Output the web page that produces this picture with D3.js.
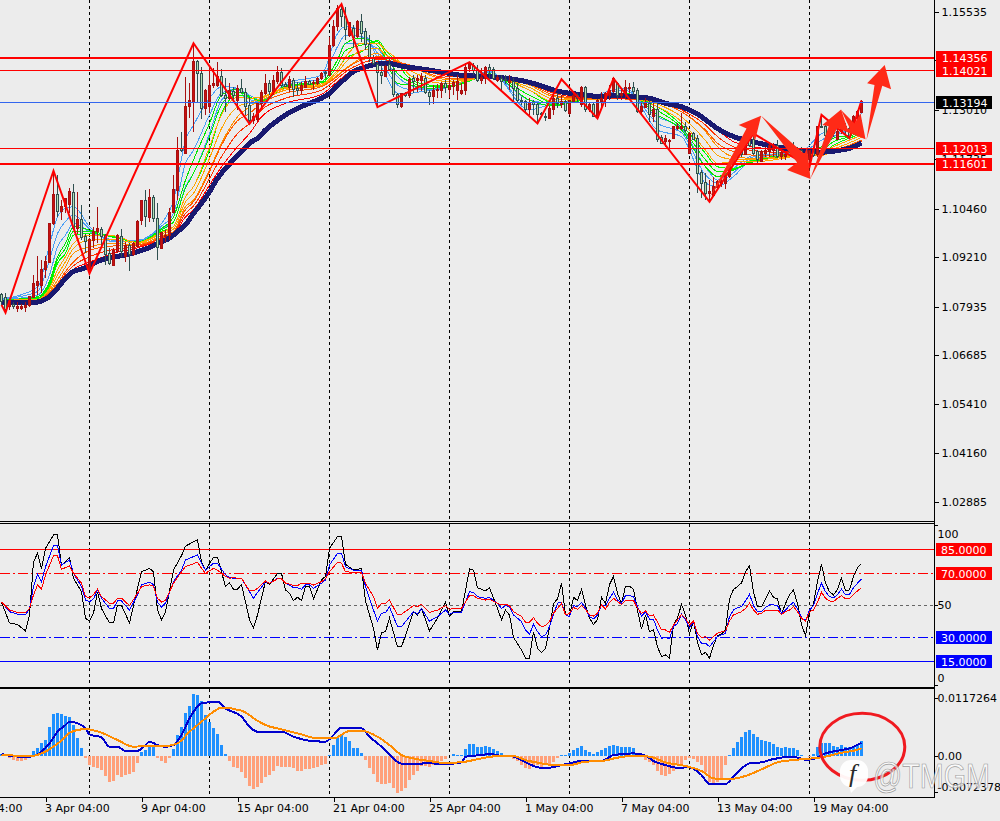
<!DOCTYPE html>
<html><head><meta charset="utf-8">
<script src="https://cdn.jsdelivr.net/npm/d3@7/dist/d3.min.js"></script>
<style>
html,body{margin:0;padding:0;background:#ececec;overflow:hidden}
svg{display:block}
text{font-family:"DejaVu Sans",sans-serif;font-size:11px}
</style></head><body><div id="chart"></div>
<script>
// Prices below are in 1/10000 of the quote (11553.5 = 1.15535). One candle per bar, 0..215.
const open=[10825,10816,10793,10800,10789,10789,10792,10796,10817,10849,10847,10888,10907,11007,11083,11038,11051,11058,11088,10995,11018,10974,10884,10965,10986,10993,10976,10931,10900,10935,10974,10922,10951,10927,10948,11015,11068,11024,11075,11021,10944,10974,10978,11036,11094,11202,11189,11309,11321,11426,11395,11305,11311,11363,11365,11387,11339,11330,11348,11326,11357,11345,11313,11273,11275,11318,11344,11369,11348,11374,11398,11367,11359,11378,11357,11351,11359,11375,11368,11369,11382,11397,11391,11466,11516,11559,11543,11492,11511,11490,11529,11503,11470,11434,11417,11397,11388,11417,11406,11341,11309,11344,11337,11382,11376,11378,11382,11347,11335,11350,11352,11369,11354,11362,11351,11342,11351,11408,11415,11402,11376,11382,11411,11404,11378,11382,11380,11371,11374,11357,11326,11322,11301,11321,11315,11292,11285,11279,11302,11331,11316,11322,11292,11322,11339,11314,11359,11301,11314,11282,11322,11328,11339,11348,11368,11339,11342,11357,11359,11351,11296,11308,11318,11285,11301,11230,11219,11219,11227,11253,11253,11259,11189,11239,11228,11140,11113,11086,11081,11101,11110,11110,11129,11163,11187,11193,11187,11223,11225,11193,11167,11189,11193,11197,11208,11180,11180,11197,11204,11202,11197,11172,11173,11196,11185,11259,11258,11240,11245,11225,11245,11258,11253,11253,11279,11293];
const close=[10806,10785,10806,10793,10795,10793,10796,10819,10852,10859,10890,10909,11008,11082,11038,11053,11072,11090,10995,11018,10972,10961,10967,10986,10995,10974,10929,10905,10938,10976,10935,10952,10929,10957,11014,11068,11025,11075,11021,10946,10984,10977,11037,11096,11197,11196,11311,11324,11427,11395,11305,11352,11365,11368,11388,11337,11331,11351,11339,11357,11345,11311,11273,11283,11318,11347,11369,11348,11376,11398,11365,11361,11380,11354,11351,11364,11375,11367,11371,11382,11394,11394,11468,11517,11563,11542,11509,11526,11488,11529,11498,11470,11434,11421,11397,11390,11414,11406,11341,11314,11344,11339,11380,11374,11382,11388,11345,11335,11352,11354,11369,11359,11364,11372,11374,11352,11411,11421,11402,11378,11385,11411,11402,11382,11385,11374,11376,11378,11357,11326,11322,11301,11321,11314,11288,11288,11282,11305,11331,11318,11322,11299,11325,11339,11331,11359,11301,11316,11285,11326,11330,11342,11351,11382,11339,11344,11359,11359,11348,11296,11311,11320,11288,11301,11225,11215,11227,11223,11258,11259,11259,11247,11239,11225,11137,11112,11086,11090,11103,11116,11116,11131,11163,11172,11182,11185,11209,11210,11189,11172,11193,11197,11210,11208,11180,11191,11187,11193,11197,11193,11167,11170,11196,11183,11258,11256,11234,11236,11239,11245,11258,11251,11232,11283,11296,11322];
const high=[10828,10829,10813,10806,10806,10800,10806,10821,10875,10924,10914,10924,11008,11142,11133,11068,11072,11099,11110,11090,11056,10982,10970,11000,11050,11000,10982,10944,10944,10982,10993,10961,10957,10961,11017,11068,11094,11096,11081,11060,10987,10991,11047,11133,11232,11245,11385,11370,11473,11430,11412,11354,11412,11408,11424,11406,11382,11370,11359,11365,11380,11357,11335,11292,11322,11352,11394,11378,11391,11414,11408,11374,11388,11382,11374,11374,11388,11378,11378,11385,11400,11404,11490,11533,11572,11576,11567,11529,11520,11533,11548,11511,11494,11443,11425,11417,11417,11438,11408,11344,11345,11348,11385,11391,11391,11395,11391,11352,11365,11368,11374,11378,11391,11378,11391,11370,11421,11425,11423,11417,11408,11414,11419,11412,11391,11391,11391,11391,11382,11370,11335,11326,11331,11326,11322,11296,11292,11311,11339,11344,11339,11326,11326,11344,11345,11363,11363,11322,11318,11328,11348,11348,11365,11385,11374,11357,11378,11371,11374,11357,11322,11331,11326,11318,11318,11236,11236,11227,11259,11266,11294,11271,11245,11245,11236,11146,11137,11120,11129,11120,11124,11133,11165,11180,11193,11197,11223,11236,11236,11197,11197,11206,11219,11215,11223,11197,11193,11206,11219,11206,11206,11180,11197,11202,11259,11288,11262,11253,11253,11253,11271,11266,11262,11288,11301,11326];
const low=[10798,10780,10785,10786,10780,10785,10780,10793,10815,10823,10828,10866,10907,11004,11025,11017,11034,11034,10991,10982,10965,10931,10879,10944,10957,10948,10901,10901,10898,10931,10922,10909,10886,10924,10946,11004,11000,11013,11013,10914,10941,10961,10965,11034,11068,11193,11189,11279,11245,11318,11277,11288,11292,11357,11361,11333,11296,11326,11318,11301,11344,11288,11266,11265,11271,11309,11339,11339,11339,11369,11359,11359,11348,11335,11339,11342,11357,11365,11352,11365,11378,11382,11388,11464,11505,11516,11481,11490,11460,11486,11477,11455,11425,11417,11307,11369,11385,11404,11335,11307,11307,11335,11331,11344,11348,11351,11342,11314,11316,11331,11331,11344,11331,11339,11326,11339,11339,11400,11391,11374,11369,11369,11378,11378,11374,11352,11368,11352,11322,11318,11314,11296,11288,11288,11266,11283,11273,11277,11288,11305,11305,11296,11288,11318,11322,11309,11296,11296,11282,11277,11301,11309,11326,11344,11326,11326,11328,11344,11339,11292,11290,11305,11271,11271,11219,11213,11206,11202,11225,11249,11249,11245,11187,11223,11086,11073,11068,11068,11077,11099,11103,11096,11124,11159,11172,11180,11185,11206,11185,11165,11166,11180,11180,11180,11176,11172,11172,11189,11189,11189,11163,11154,11154,11180,11180,11253,11227,11227,11232,11223,11240,11240,11227,11249,11275,11292];

const navyBars=[0,4,8,10,12,14,16,18,20,22,25,28,31,34,37,40,42,44,46,48,50,52,54,56,58,60,62,64,66,68,71,74,77,80,82,84,86,88,90,92,94,96,98,100,104,108,112,116,120,124,128,132,136,138,142,146,150,154,158,162,166,170,174,179,183,187,192,196,200,205,209,212,215];
const navyVals=[10804,10804,10804,10808,10819,10841,10866,10884,10890,10899,10914,10921,10927,10935,10946,10961,10970,10987,11004,11034,11060,11090,11124,11150,11172,11193,11215,11228,11249,11266,11288,11305,11318,11331,11344,11365,11382,11400,11408,11415,11419,11421,11419,11414,11408,11402,11395,11389,11388,11385,11380,11372,11359,11352,11344,11339,11335,11338,11335,11331,11318,11309,11290,11253,11232,11221,11209,11202,11196,11192,11196,11202,11215];

const rainbowBars=[0,9,12,14,16,18,22,28,34,40,43,46,48,52,55,59,62,65,71,80,84,86,90,94,96,99,102,107,112,122,132,138,146,156,164,170,176,179,183,188,200,205,208,212,215];
const blue1=[10813,10843,10952,11025,11047,11051,11000,10961,10964,11008,11068,11223,11262,11331,11361,11357,11318,11318,11369,11391,11498,11516,11507,11434,11391,11344,11344,11352,11359,11400,11301,11318,11331,11357,11249,11232,11112,11103,11129,11176,11193,11240,11249,11251,11292];
const blue2=[10812,10832,10914,10982,11013,11030,10994,10964,10962,11001,11034,11163,11197,11288,11344,11356,11328,11322,11365,11382,11464,11494,11490,11447,11408,11365,11354,11352,11359,11397,11314,11318,11330,11351,11266,11242,11133,11112,11139,11180,11192,11223,11240,11249,11275];
const blue3=[10811,10823,10875,10948,10978,11008,10987,10965,10960,10995,11012,11103,11137,11240,11326,11354,11339,11326,11361,11374,11430,11473,11473,11460,11430,11387,11365,11354,11360,11394,11326,11318,11329,11344,11283,11253,11154,11120,11150,11184,11191,11206,11232,11247,11258];
const green1=[10810,10819,10858,10922,10957,11000,10991,10972,10961,10995,11025,11120,11172,11266,11339,11354,11335,11322,11363,11374,11430,11473,11486,11468,11434,11369,11365,11357,11360,11394,11326,11311,11328,11344,11288,11249,11154,11129,11146,11167,11189,11206,11228,11236,11253];
const green2=[10810,10816,10852,10914,10944,10988,10987,10974,10960,10992,11012,11099,11137,11232,11314,11347,11335,11323,11361,11371,11417,11454,11468,11477,11447,11395,11374,11361,11361,11391,11339,11314,11328,11339,11299,11256,11172,11142,11148,11170,11188,11197,11219,11232,11247];
const green3=[10810,10814,10845,10905,10931,10978,10982,10975,10959,10988,11000,11077,11103,11197,11292,11339,11333,11325,11359,11368,11404,11434,11451,11481,11455,11421,11382,11365,11363,11388,11352,11318,11328,11335,11309,11262,11189,11154,11150,11172,11187,11189,11210,11228,11240];
const orange1=[10810,10812,10841,10888,10922,10957,10978,10976,10959,10985,11000,11077,11103,11206,11288,11333,11331,11335,11359,11368,11404,11437,11473,11473,11455,11431,11391,11374,11369,11387,11352,11322,11328,11332,11309,11271,11197,11163,11167,11167,11184,11191,11206,11223,11236];
const orange2=[10809,10811,10836,10875,10909,10944,10965,10967,10956,10981,10993,11064,11086,11176,11253,11309,11320,11331,11356,11365,11398,11423,11454,11460,11443,11428,11404,11382,11374,11385,11359,11329,11328,11332,11316,11283,11222,11184,11173,11172,11184,11188,11200,11216,11230];
const orange3=[10809,10810,10832,10862,10896,10931,10948,10957,10953,10976,10987,11051,11068,11146,11215,11283,11309,11326,11352,11363,11391,11408,11434,11447,11430,11423,11417,11391,11378,11384,11365,11335,11328,11331,11322,11296,11245,11206,11180,11176,11184,11184,11193,11210,11223];
const red1=[10808,10810,10830,10853,10884,10909,10938,10950,10952,10972,10986,11043,11064,11142,11210,11273,11292,11318,11344,11361,11388,11406,11430,11438,11437,11425,11417,11394,11382,11384,11368,11339,11330,11329,11322,11296,11249,11215,11193,11184,11187,11191,11196,11210,11223];
const red2=[10807,10809,10827,10849,10878,10899,10922,10941,10948,10969,10982,11034,11053,11124,11180,11240,11266,11301,11331,11352,11382,11399,11421,11431,11430,11423,11414,11399,11387,11385,11369,11344,11332,11330,11324,11301,11262,11232,11206,11196,11189,11189,11193,11206,11220];
const red3=[10806,10807,10823,10845,10872,10890,10908,10931,10945,10965,10978,11025,11043,11107,11154,11206,11240,11283,11318,11341,11374,11391,11412,11425,11425,11421,11413,11404,11391,11386,11370,11348,11333,11331,11326,11305,11275,11249,11219,11206,11191,11187,11191,11202,11216];

const zigzagBars=[0,1,13,22,48,62,85,94,117,134,140,149,153,177,188,202,205,212,215];
const zigzagVals=[10798,10778,11144,10879,11473,11265,11574,11308,11424,11266,11380,11279,11382,11064,11240,11154,11288,11228,11325];

const levelPrices=[11435.6,11402.1,11319.4,11201.3,11160.1];
const levelLabels=["1.14356","1.14021","1.13194","1.12013","1.11601"];
const levelColors=["#ff0000","#ff0000","#3366ee","#ff0000","#ff0000"];
const levelWidths=[2,1,1,1,2];
const levelBoxes=["#ff0000","#ff0000","#000000","#ff0000","#ff0000"];
const priceTicks=[11553.5,11428.5,11301,11173.5,11046,10921,10793.5,10668.5,10541,10416,10288.5];

const rsiBars=[0,2,4,6,7,8,9,10,11,13,14,15,17,18,20,21,22,23,24,25,27,28,29,30,32,34,35,37,38,39,40,41,43,45,46,49,50,51,53,54,56,57,58,59,60,62,63,64,66,67,69,70,71,72,73,74,75,76,77,78,80,81,82,84,85,86,88,90,91,93,94,95,96,97,99,100,103,104,105,107,109,111,112,113,115,117,118,119,121,122,124,125,126,127,128,130,131,132,133,134,135,136,137,138,139,140,141,142,143,144,145,146,147,148,149,150,151,152,153,154,155,156,157,158,159,160,161,162,163,164,165,166,167,168,169,170,171,172,173,174,175,176,177,178,179,180,181,182,183,184,185,186,187,188,189,190,191,192,193,194,195,196,197,198,199,200,201,202,203,204,205,206,207,208,209,210,211,212,213,214,215];
const rsiFast=[52,39,38,34,44,77,82.5,73,85.6,94,94,75,80,67,58.5,42,40,45,58.5,48,39,39,50,50,39,60.6,71,73,71,47,41,46,72,81,87,91,77,72,80,80,61.7,64,60,60,63,41,36,44,65,63,70,70,59.6,57.5,53,55,53,61.7,61.7,54,66,68,85.6,93,93,75.6,72,73,52.7,35.6,22,33,33.5,42,24,24,46,44,48,34,42,52,43,46,46,72.7,72,61,59,61,48,41,47,44,30,22,17,17,33.5,23,20.6,23,36,51,54,64,44,43,55,53,60,50,42,38,41,55,51,63,68,57.5,51,62,62,60,47,35,44,33.5,34.6,24,18,19,17,38,42,50.6,44,32,40,27,19,20.6,17,25,31,32,34.6,54,60,61.7,64,71,74.6,58.5,49,49,54,59,55,54,44.6,51,56.5,59.6,51,38,31,46,51,65,75.6,64,58.5,56.5,60,67,59,59.6,68,73.5,76];
const rsiMid=[52,46,44.5,44,48,61.7,69.4,64.8,74,87.3,87.3,75.2,78.3,70,61.7,53.3,52.3,54,59.6,54.4,48,48,52.7,52.7,47,56.5,62.7,64.4,63,52,49,51.3,64.8,72,78.3,81.5,76.3,72,76.3,76.3,69,67.3,66.9,66.9,66.9,58.5,54.4,58,64.8,63.8,66.9,66.9,63.8,62.7,61,61,60,62.7,62.7,60.6,63.8,65.8,75.2,82.5,82.5,74,72,72,61.7,47,40,45,45.4,49,36.7,36.7,46,44.6,48,40,43,47,44.4,45.6,45.6,58.5,58,55.4,54.4,54.8,51.3,48,49.8,49.2,44,39.8,34.6,31.9,38.1,33.5,30.4,31.5,36.7,44,51.3,51.9,44,43,49.8,49.2,51.9,48.1,43,41.5,44,50.2,49.6,54.4,58.1,53.3,51.3,56,56,55.4,49.2,43,46,41.3,41.3,34.6,29.4,29.8,29,36.7,38.7,44.4,40.8,36,39.8,30.4,26.3,26.3,24.2,27.3,30.4,31.5,32.5,43,47,48.6,49.2,52.7,56.9,49.8,46,46,48.6,50.2,50.2,49.8,45,47,49.8,51.9,47.7,42.3,40.2,47,49.8,57.5,63.8,58.5,55.4,54.8,56.5,60.2,56.5,56.9,61,63.8,66.5];
const rsiSlow=[52,47,45.6,45.4,48,56.5,62.7,60.2,69,81,81,72.5,74.6,70,63.8,55.4,54.8,56.5,60.2,55.4,51.3,51.3,54.4,54.4,49.8,57.5,61.7,62.7,62,54.4,52,53,63.8,71,74.2,76.9,73.1,70,73.1,72,68,66.9,67.3,66.9,66.9,59,59,60.6,65.2,63.8,66.5,66.5,63.8,63.3,62.3,62.3,63.8,63.8,63.8,62.7,64.8,66.5,71,76.9,76.3,71,70.6,70.6,63.8,55.4,48.1,51.3,51.3,53.3,44,44.4,49.8,49.2,50.6,45.6,47,49.8,47.5,48.1,48.1,56,56,54.4,53.3,53.8,51.3,50.2,50.6,49.8,46,43,39.4,39.4,42.3,38.8,36.7,37.3,39.8,45,48.1,51.3,44,45,48.6,47.5,49.8,47.5,44,43.3,45,50.2,47.7,51.9,54.4,52.3,50.6,53,53,53,48.1,45,46.5,43.5,44,39.4,34.6,34.6,33.1,37.7,40.8,44.4,41.9,37.7,40.2,32.5,29.8,30.4,28.3,30.4,32.5,33.5,34,40.2,44,45,46,48.1,51.3,47,44.4,45,47,46.5,47,47,44.4,46,47,49.2,46,41.9,40.2,46,47,51.9,58.1,54.4,52.7,52.3,54.4,56,54,54,56.9,59,61];
const rsiLevels=[85,70,50,30,15];
const rsiLevelColors=["#ff0000","#ff0000","#666666","#0000ff","#0000ff"];
const rsiLevelDash=["","10,3,2,3","3,3","10,3,2,3",""];
const rsiBoxes=[["85.0000",85,"#ff0000"],["70.0000",70,"#ff0000"],["30.0000",30,"#0000ff"],["15.0000",15,"#0000ff"]];

// MACD panel values in units of 0.0001
const macdHist=[2.7,1.3,-4,-8.8,-10.8,-10.8,-8,-2.7,9.4,16,25,31.7,58.6,84,85.6,84,80,77.5,63,36,15,-5.4,-19,-22,-25.6,-29,-41,-52.6,-51,-39,-42.5,-40,-38,-32,-15.5,8,11.5,18,18,-4,-10.8,-14,-5.4,13.5,42,58.6,85.6,100,124,122.7,110.5,82,68.7,55,44,21.6,3.4,-10.8,-22,-25.6,-32,-44.5,-60.7,-67.4,-62.7,-56,-42.5,-39,-31,-21,-22,-23.6,-23.6,-25.6,-31,-31,-27,-27,-25.6,-23.6,-19,-17,1.3,21.6,38.4,41.8,38.4,29.7,16,16,4.7,-8.8,-24.3,-37.7,-52.6,-58,-57.3,-54.6,-66,-74.8,-71.4,-66,-49,-39,-31,-20,-21,-22,-19,-17,-10.8,-6.7,0,2.7,1.3,1.3,13.5,23.6,23.6,18,17,19.5,17.5,13.5,9.4,4.7,0,-2.7,-6.7,-10.8,-19,-25.6,-27,-23.6,-19,-22,-19,-19,-13.5,-5.4,1.3,1.3,4.7,11.5,15,19.5,11.5,8,3.4,6.7,11.5,15,19.5,21.6,19.5,17.5,17.5,17.5,16,0,-2.7,-8.8,-13.5,-19,-31,-39,-40.4,-37.7,-31,-19,-17.5,-8.8,-4,-6.7,-13.5,-19,-33.7,-52.6,-59,-52.6,-45.8,-19,1.3,15,27,38.4,48.5,52,43,37,31.7,29.7,28.3,23,18,16,17,15,16,11.5,1.3,0,-2,2.7,17,25,25.6,25,20,18,21.6,18,17,19.5,21.6,29.7];
const macdBars=[0,2,5,7,10,12,14,16,17,19,21,22,25,27,29,31,34,36,37,39,41,43,45,47,50,54,56,60,62,64,70,73,77,81,83,85,90,92,95,97,100,103,107,111,115,116,120,122,125,127,130,132,135,137,140,142,145,150,153,158,161,163,166,169,172,175,177,181,183,187,190,193,198,201,203,206,210,212,215];
const macdVals=[3.4,0,-2,-2,8,25,48.5,62,68.7,65.4,55.3,43,37,18,18,9.4,10,21.6,28.3,21.6,18,21.6,41.8,75.5,105.8,109.2,95.7,78.9,58.6,48.5,48.5,38.4,30.3,28.3,41.8,56.6,55.3,38.4,18.2,2.7,-16.2,-16.2,-15.5,-16.9,-13.5,-2,1.3,3.4,0,0,-8.8,-17.5,-24.3,-24.3,-18.9,-15.5,-10.8,-10.8,1.3,4.7,0,-10.8,-18.9,-24.3,-23.6,-39,-57.3,-57.3,-42.5,-15.5,-13.5,-6.7,-2,-8.1,-6.7,4.7,11.5,14.8,26.3];
const signalBars=[0,5,8,10,13,16,17,21,25,29,33,36,41,44,47,50,53,55,60,64,66,70,75,79,83,87,90,94,97,100,103,107,111,116,120,125,128,131,135,138,142,146,150,154,158,162,166,171,175,178,181,186,190,194,198,202,206,210,213,215];
const signalVals=[1.3,0,0,4.7,18.2,38.4,46.5,54,46.5,31.7,18.2,19.5,19.5,25,48.5,68.7,89,97,91,70.8,62,53.2,43,35,35,49.9,50.5,38.4,21.6,1.3,-5.4,-10.8,-14.8,-12.1,-5.4,0,-0.7,-8.8,-15.5,-18.9,-18.9,-12.1,-10.8,-4,0,-2,-13.5,-20.9,-31,-45.8,-47.8,-41,-27.6,-13.5,-8.8,-6,-2,6,10,14.8];
const macdTicks=[117.264,0,-72.378];
const macdTickLabels=["0.0117264","0.00","-0.0072378"];

const separatorBars=[22,52,82,112,142,172,202];
const xTickBars=[-13,11,35,59,83,107,131,155,179,203];
const xTickLabels=["28 Mar 04:00","3 Apr 04:00","9 Apr 04:00","15 Apr 04:00","21 Apr 04:00","25 Apr 04:00","1 May 04:00","7 May 04:00","13 May 04:00","19 May 04:00"];

// Hand-drawn annotation arrows, as bar / price outlines
const arrowBars=[[176.9,186.25,184.3,189.9,188.4,187.75],[189.9,200.75,201.4,202.25,196.4,198.9],[202.25,206.8,205.2,209.9,211.6,208.9],[209.9,213.25,214.75,216,209.6,212.1],[216.25,218.25,216.4,220.8,222.4,220.2]];
const arrowPrices=[[11073,11253,11262,11286,11222,11236],[11286,11187,11206,11123,11146,11165],[11124,11259,11262,11302,11249,11253],[11301,11266,11292,11225,11251,11253],[11223,11365,11370,11417,11354,11363]];

const W=1000,H=821,AX=934.5,MAIN_B=521,RSI_T=524,RSI_B=686,MACD_T=689,MACD_B=797;
const x=d3.scaleLinear().domain([0,215]).range([1.5,861.5]);
const y=d3.scaleLinear().domain([11584.5,11584.5-2.58*522]).range([0,522]);
const yRsi=d3.scaleLinear().domain([0,100]).range([685.3,525.3]);
const yMacd=d3.scaleLinear().domain([117.264,-72.378]).range([697.7,791.5]);

const svg=d3.select("#chart").append("svg").attr("width",W).attr("height",H).attr("viewBox",`0 0 ${W} ${H}`);
svg.append("rect").attr("width",W).attr("height",H).attr("fill","#ececec");
const defs=svg.append("defs");
defs.append("clipPath").attr("id","plot").append("rect").attr("width",AX).attr("height",MAIN_B);
const CR="crispEdges";

// period separators
[[0,MAIN_B],[RSI_T,RSI_B],[MACD_T,MACD_B]].forEach(([a,b])=>{
  svg.append("g").selectAll("line").data(separatorBars).join("line")
    .attr("x1",d=>x(d)).attr("x2",d=>x(d)).attr("y1",a).attr("y2",b)
    .attr("stroke","#000").attr("stroke-dasharray","3,3").attr("shape-rendering",CR);
});

const main=svg.append("g").attr("clip-path","url(#plot)");
const line=(bars)=>d3.line().x((d,i)=>x(bars[i])).y(d=>y(d)).curve(d3.curveMonotoneX);

const rainbow=[[blue1,"#4a9ff5"],[blue2,"#4a9ff5"],[blue3,"#4a9ff5"],[green1,"#00e600"],[green2,"#00f000"],[green3,"#00ff00"],[orange1,"#ffa500"],[orange2,"#ffa500"],[orange3,"#ff9000"],[red1,"#ff5a00"],[red2,"#ff3000"],[red3,"#ff0000"]];
main.append("g").selectAll("path").data(rainbow).join("path")
  .attr("d",d=>line(rainbowBars)(d[0])).attr("fill","none").attr("stroke",d=>d[1]).attr("stroke-width",1).attr("shape-rendering",CR);
main.append("path").attr("d",line(navyBars)(navyVals)).attr("fill","none").attr("stroke","#191970").attr("stroke-width",5).attr("shape-rendering",CR);

// candles
const bars=d3.range(open.length);
const up=i=>close[i]>=open[i];
main.append("g").selectAll("line").data(bars).join("line")
  .attr("x1",i=>x(i)).attr("x2",i=>x(i)).attr("y1",i=>y(high[i])).attr("y2",i=>y(low[i]))
  .attr("stroke",i=>up(i)?"#a81010":"#2f4f4f").attr("shape-rendering",CR);
main.append("g").selectAll("rect").data(bars).join("rect")
  .attr("x",i=>x(i)-1).attr("width",2)
  .attr("y",i=>Math.min(y(open[i]),y(close[i])))
  .attr("height",i=>Math.max(1,Math.abs(y(open[i])-y(close[i]))))
  .attr("fill",i=>up(i)?"#c81010":"#b5e0b5").attr("stroke",i=>up(i)?"#a81010":"#2f4f4f").attr("stroke-width",1).attr("shape-rendering",CR);

// zigzag
main.append("path").attr("d",d3.line().x((d,i)=>x(zigzagBars[i])).y(d=>y(d))(zigzagVals)).attr("fill","none").attr("stroke","#ff0000").attr("stroke-width",2).attr("stroke-linejoin","miter");

// horizontal levels
main.append("g").selectAll("line").data(levelPrices).join("line")
  .attr("x1",0).attr("x2",AX).attr("y1",d=>y(d)).attr("y2",d=>y(d))
  .attr("stroke",(d,i)=>levelColors[i]).attr("stroke-width",(d,i)=>levelWidths[i]).attr("shape-rendering",CR);

// arrows
svg.append("g").selectAll("path").data(arrowBars).join("path")
  .attr("d",(b,k)=>d3.line().x((d,i)=>x(d)).y((d,i)=>y(arrowPrices[k][i]))(b)+"Z").attr("fill","#ff2a17");

// RSI
svg.append("g").selectAll("line").data(rsiLevels).join("line")
  .attr("x1",0).attr("x2",AX).attr("y1",d=>yRsi(d)).attr("y2",d=>yRsi(d))
  .attr("stroke",(d,i)=>rsiLevelColors[i]).attr("stroke-dasharray",(d,i)=>rsiLevelDash[i]).attr("shape-rendering",CR);
const rsiLine=d3.line().x((d,i)=>x(rsiBars[i])).y(d=>yRsi(d));
[[rsiFast,"#000000"],[rsiMid,"#0000ff"],[rsiSlow,"#ff0000"]].forEach(([s,c])=>{
  svg.append("path").attr("d",rsiLine(s)).attr("fill","none").attr("stroke",c).attr("stroke-width",1).attr("shape-rendering",CR);
});

// MACD
svg.append("g").selectAll("rect").data(macdHist).join("rect")
  .attr("x",(d,i)=>x(i)-1.5).attr("width",3)
  .attr("y",d=>Math.min(yMacd(d),yMacd(0))).attr("height",d=>Math.abs(yMacd(d)-yMacd(0)))
  .attr("fill",d=>d>=0?"#1e90ff":"#ffa07a").attr("shape-rendering",CR);
const mLine=b=>d3.line().x((d,i)=>x(b[i])).y(d=>yMacd(d)).curve(d3.curveMonotoneX);
svg.append("path").attr("d",mLine(macdBars)(macdVals)).attr("fill","none").attr("stroke","#0000cd").attr("stroke-width",2).attr("shape-rendering",CR);
svg.append("path").attr("d",mLine(signalBars)(signalVals)).attr("fill","none").attr("stroke","#ff8c00").attr("stroke-width",2).attr("shape-rendering",CR);

// annotation ring
svg.append("ellipse").attr("cx",x(215.2)).attr("cy",yMacd(18)).attr("rx",42.5).attr("ry",33.5)
  .attr("fill","none").attr("stroke","#f01a20").attr("stroke-width",3);

// frame lines
[521.5,523.5,687,688.5,MACD_B+.5].forEach(v=>{
  svg.append("line").attr("x1",0).attr("x2",AX).attr("y1",v).attr("y2",v).attr("stroke","#000").attr("shape-rendering",CR);
});
svg.append("line").attr("x1",AX).attr("x2",AX).attr("y1",0).attr("y2",MACD_B+1).attr("stroke","#000").attr("shape-rendering",CR);

function styleAxis(g){ g.select(".domain").remove(); g.selectAll("line").attr("stroke","#000").attr("shape-rendering",CR); g.selectAll("text").attr("fill","#000").style("font-size","11px").style("font-family",'"DejaVu Sans",sans-serif'); }

// axes
const axX=svg.append("g").attr("transform",`translate(0,${MACD_B+.5})`)
  .call(d3.axisBottom(x).tickValues(xTickBars).tickFormat((d,i)=>xTickLabels[i]).tickSize(4).tickPadding(3));
axX.call(styleAxis); axX.selectAll("text").attr("text-anchor","start").attr("x",-1).attr("y",7);
axX.selectAll(".tick").filter(d=>d<0).select("line").remove();

const axY=svg.append("g").attr("transform",`translate(${AX},0)`)
  .call(d3.axisRight(y).tickValues(priceTicks).tickFormat(d=>(d/1e4).toFixed(5)).tickSize(4).tickPadding(3));
axY.call(styleAxis);

const boxes=svg.append("g").selectAll("g").data(levelPrices).join("g").attr("transform",d=>`translate(936,${y(d)})`);
boxes.append("rect").attr("x",0).attr("y",-6.5).attr("width",56).attr("height",13).attr("fill",(d,i)=>levelBoxes[i]).attr("shape-rendering",CR);
boxes.append("text").attr("x",6).attr("y",4).attr("fill","#fff").text((d,i)=>levelLabels[i]);

const axR=svg.append("g").attr("transform",`translate(${AX},0)`)
  .call(d3.axisRight(yRsi).tickValues([100,50,0]).tickFormat(d3.format("d")).tickSize(3).tickPadding(0));
axR.call(styleAxis);
axR.selectAll("text").attr("x",3).attr("dy",d=>d===100?"1.1em":d===0?"-0.35em":".32em");

const rb=svg.append("g").selectAll("g").data(rsiBoxes).join("g").attr("transform",d=>`translate(936,${yRsi(d[1])})`);
rb.append("rect").attr("y",-6.5).attr("width",56).attr("height",13.5).attr("fill",d=>d[2]).attr("shape-rendering",CR);
rb.append("text").attr("x",5).attr("y",4.5).attr("fill","#fff").text(d=>d[0]);

const axM=svg.append("g").attr("transform",`translate(${AX},0)`)
  .call(d3.axisRight(yMacd).tickValues(macdTicks).tickFormat((d,i)=>macdTickLabels[i]).tickSize(3).tickPadding(0));
axM.call(styleAxis);
axM.selectAll("text").attr("x",3).attr("dy",d=>d<0?"-0.1em":".32em");

// watermark
const wm=svg.append("g");
wm.append("rect").attr("x",840).attr("y",760).attr("width",28).attr("height",27).attr("rx",11).attr("fill","#fff").attr("fill-opacity",.95);
wm.append("path").attr("d","M849 785 L851 793 L858 786 Z").attr("fill","#fff");
wm.append("text").attr("x",849).attr("y",782).attr("font-style","italic").style("font-size","26px").style("font-family",'"Liberation Serif",serif').attr("fill","#2a2a2a").text("f");
wm.append("text").attr("x",873).attr("y",788).attr("textLength",117).attr("lengthAdjust","spacingAndGlyphs")
  .style("font-size","35px").style("font-family",'"Liberation Sans",sans-serif')
  .attr("fill","#ffffff").attr("fill-opacity",.7).attr("stroke","#9a9a9a").attr("stroke-width",.7).text("@TMGM");
</script></body></html>
